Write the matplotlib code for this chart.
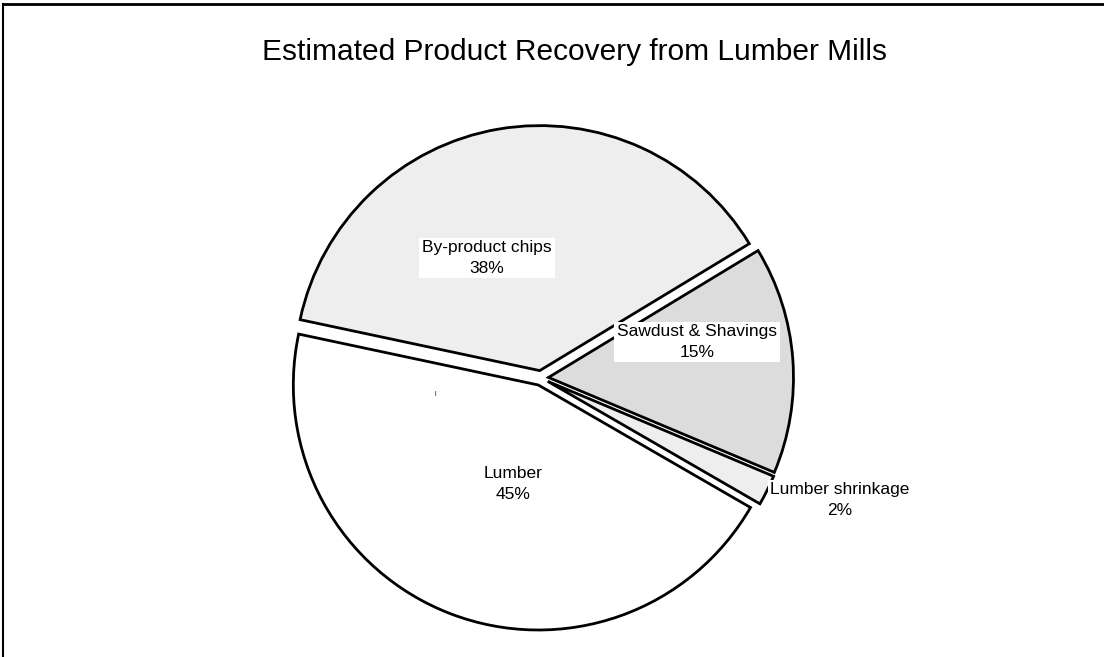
import matplotlib
matplotlib.use("Agg")
import matplotlib.pyplot as plt
from matplotlib.lines import Line2D

plt.rcParams['font.family'] = ['Liberation Sans', 'DejaVu Sans']

title = "Estimated Product Recovery from Lumber Mills"
labels = ["Sawdust & Shavings", "By-product chips", "Lumber", "Lumber shrinkage"]
values = [15, 38, 45, 2]
colors = ["#dcdcdc", "#eeeeee", "#ffffff", "#eeeeee"]
# label block centres in pixel coordinates (x, y from top)
label_pos = [(697, 342), (487, 258), (513, 484), (840, 500)]

W, H = 1104, 657
fig = plt.figure(figsize=(W / 100, H / 100), dpi=100)
ax = fig.add_axes([0, 0, 1, 1])

# explode is in data units here (pixels)
ax.pie(values, colors=colors, startangle=-22.8, counterclock=True,
       explode=[7.5] * len(values), center=(541, H - 378), radius=245,
       wedgeprops=dict(edgecolor="black", linewidth=2.0))
ax.set_xlim(0, W)
ax.set_ylim(0, H)
ax.set_aspect("equal")
ax.axis("off")

for lab, val, (x, y) in zip(labels, values, label_pos):
    ax.text(x, H - y, f"{lab}\n{val}%", ha="center", va="center",
            fontsize=12.5, linespacing=1.45,
            bbox=dict(facecolor="white", edgecolor="none", pad=2))

ax.text(435, H - 393, "|", ha="center", va="center", fontsize=4.5)

fig.text(574 / W, 1 - 52 / H, title, ha="center", va="center", fontsize=21.5)

# chart frame (top and left edges visible)
fig.add_artist(Line2D([3 / W, 1], [1 - 4 / H, 1 - 4 / H], color="black", linewidth=2,
                      transform=fig.transFigure))
fig.add_artist(Line2D([3 / W, 3 / W], [0, 1 - 4 / H], color="black", linewidth=1.5,
                      transform=fig.transFigure))

fig.savefig("out.png", dpi=100, facecolor="white")
